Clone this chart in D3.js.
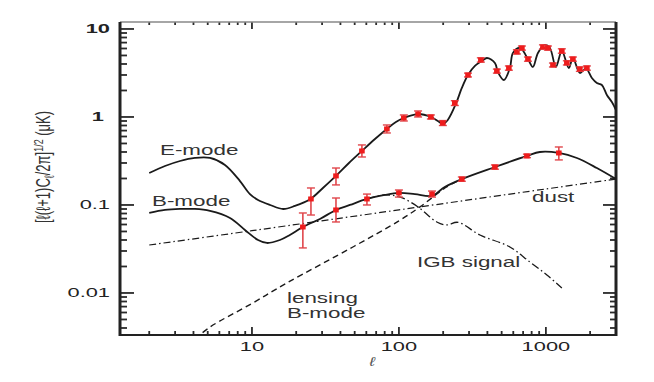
<!DOCTYPE html>
<html>
<head>
<meta charset="utf-8">
<script src="https://cdn.jsdelivr.net/npm/d3@7"></script>
<style>
  body { margin: 0; background: #fff; }
  svg text { font-family: "Liberation Sans", Arial, sans-serif; fill: #222; }
</style>
</head>
<body>
<div id="chart"></div>
<script>
////////////////////////////////////////////////////////////////////////
// Data (multipole l, amplitude in uK)

let eModeEll = [2, 2.56, 3.24, 4.09, 5.18, 6.55, 8.29, 9.69, 11, 13.3,
  16.3, 19.6, 25, 30.4, 37.3, 45.7, 56, 68.7, 82.8, 95.4,
  108, 135, 165, 184, 199, 215, 244, 268, 295, 329,
  367, 397, 450, 471, 518, 569, 597, 666, 755, 816,
  883, 985, 1065, 1170, 1284, 1433, 1527, 1703, 1871, 2056,
  2223, 2404, 2600, 2812, 3000];
let eModeAmp = [0.231, 0.277, 0.316, 0.342, 0.342, 0.285, 0.187, 0.133, 0.114, 0.100,
  0.090, 0.0975, 0.117, 0.156, 0.214, 0.300, 0.411, 0.562, 0.731, 0.877,
  0.974, 1.08, 1.0, 0.90, 0.833, 0.925, 1.41, 2.14, 3.0, 3.80,
  4.33, 4.68, 4.11, 3.25, 2.63, 3.60, 5.34, 6.08, 4.56, 3.70,
  5.34, 6.58, 6.08, 3.70, 5.62, 3.60, 4.68, 3.16, 3.56, 2.77,
  2.43, 2.31, 1.78, 1.48, 1.20];

let bModeEll = [2, 2.56, 3.24, 4.09, 5.18, 7.09, 8.96, 11, 12.65, 15.5,
  18.1, 22.2, 29, 37.3, 46.4, 60.6, 80.3, 100, 128.5, 168,
  205, 268, 450, 743, 910, 1225, 1626, 2223, 3000];
let bModeAmp = [0.0811, 0.0878, 0.0901, 0.0901, 0.0855, 0.0711, 0.052, 0.040, 0.037, 0.040,
  0.0456, 0.0562, 0.0693, 0.0878, 0.100, 0.117, 0.130, 0.137, 0.133, 0.127,
  0.160, 0.197, 0.270, 0.361, 0.40, 0.39, 0.342, 0.263, 0.197];

let dustEll = [2, 10, 100, 1000, 3000];
let dustAmp = [0.0351, 0.051, 0.088, 0.152, 0.197];

let lensEll = [4.1, 5.18, 10, 17.3, 48.6, 100, 139, 211, 268];
let lensAmp = [0.0030, 0.0041, 0.0076, 0.013, 0.0333, 0.066, 0.095, 0.160, 0.197];

let igbEll = [60.6, 80.3, 102, 135, 181, 212, 252, 356, 569, 778, 1016, 1284];
let igbAmp = [0.117, 0.130, 0.123, 0.0949, 0.0641, 0.0593, 0.0635, 0.0456, 0.0333, 0.0225, 0.016, 0.0114];

// measured band powers with error bars
let eDataEll = [25.2, 37.3, 56, 82.8, 108, 135, 165, 199, 240, 295, 361, 464,
  560, 635, 687, 755, 955, 1032, 1117, 1284, 1389, 1527, 1703, 1901];
let eDataAmp = [0.117, 0.214, 0.411, 0.731, 0.974, 1.08, 1.0, 0.855, 1.44, 3.0, 4.44, 3.33,
  3.60, 5.48, 6.08, 4.56, 6.24, 6.08, 3.90, 5.62, 4.11, 4.56, 3.51, 3.60];
let eDataLo = [0.0769, 0.169, 0.351, 0.658, 0.90, 1.0, 0.949, 0.80, 1.35, 2.85, 4.2, 3.15,
  3.40, 5.2, 5.75, 4.3, 5.9, 5.75, 3.7, 5.3, 3.9, 4.3, 3.3, 3.4];
let eDataHi = [0.156, 0.263, 0.481, 0.811, 1.054, 1.17, 1.054, 0.91, 1.53, 3.15, 4.7, 3.5,
  3.8, 5.8, 6.4, 4.8, 6.6, 6.4, 4.1, 5.95, 4.35, 4.8, 3.7, 3.8];

let bDataEll = [22.2, 37.3, 60.6, 100, 168, 268, 450, 743, 1225];
let bDataAmp = [0.0562, 0.0878, 0.117, 0.137, 0.133, 0.197, 0.270, 0.361, 0.39];
let bDataLo = [0.0325, 0.0641, 0.100, 0.123, 0.123, 0.186, 0.255, 0.345, 0.325];
let bDataHi = [0.0811, 0.120, 0.133, 0.148, 0.144, 0.208, 0.285, 0.378, 0.456];

let xTicks = [10, 100, 1000];
let xTickLabels = ["10", "100", "1000"];
let yTicks = [0.01, 0.1, 1, 10];
let yTickLabels = ["0.01", "0.1", "1", "10"];

////////////////////////////////////////////////////////////////////////
// Layout

let width = 654, height = 382;
let pLeft = 120, pRight = 616, pTop = 22, pBottom = 335;

let x = d3.scaleLog().domain([1.265, 3000]).range([pLeft, pRight]);
let y = d3.scaleLog().domain([0.00333, 12]).range([pBottom, pTop]);

let svg = d3.select("#chart").append("svg")
  .attr("width", width)
  .attr("height", height);

svg.append("clipPath").attr("id", "plotclip")
  .append("rect")
  .attr("x", pLeft).attr("y", pTop)
  .attr("width", pRight - pLeft).attr("height", pBottom - pTop);

function zip(ell, amp) {
  return ell.map(function(d, i) { return { ell: d, amp: amp[i] }; });
}

// the original picture is squashed wide, so text gets a horizontal stretch
function wideText(sel, px, py, sx) {
  return sel.attr("transform", "translate(" + px + "," + py + ") scale(" + sx + ",1)");
}

////////////////////////////////////////////////////////////////////////
// Ticks point inward on all four sides

function isMajor(d) {
  return yTicks.concat(xTicks).some(function(t) { return Math.abs(d / t - 1) < 1e-6; });
}
let xAll = x.ticks().map(function(d) { return { v: d, major: isMajor(d) }; });
let yAll = y.ticks().map(function(d) { return { v: d, major: isMajor(d) }; });

let tickLayer = svg.append("g")
  .attr("stroke", "#2a2a2a")
  .attr("stroke-width", 1.8);

// bottom and top: [edge, direction, major length, minor length]
[[pBottom, -1, 8, 4], [pTop, 1, 7, 3]].forEach(function(s) {
  tickLayer.append("g").selectAll("line").data(xAll).enter().append("line")
    .attr("x1", function(d) { return x(d.v); })
    .attr("x2", function(d) { return x(d.v); })
    .attr("y1", s[0])
    .attr("y2", function(d) { return s[0] + s[1] * (d.major ? s[2] : s[3]); });
});

// left and right
[[pLeft, 1, 14, 7], [pRight, -1, 13, 6]].forEach(function(s) {
  tickLayer.append("g").selectAll("line").data(yAll).enter().append("line")
    .attr("y1", function(d) { return y(d.v); })
    .attr("y2", function(d) { return y(d.v); })
    .attr("x1", s[0])
    .attr("x2", function(d) { return s[0] + s[1] * (d.major ? s[2] : s[3]); });
});

// frame
svg.append("line").attr("x1", pLeft).attr("x2", pRight).attr("y1", pTop).attr("y2", pTop)
  .attr("stroke", "#888").attr("stroke-width", 1.5);
svg.append("line").attr("x1", pLeft).attr("x2", pRight).attr("y1", pBottom).attr("y2", pBottom)
  .attr("stroke", "#222").attr("stroke-width", 2);
svg.append("line").attr("x1", pLeft).attr("x2", pLeft).attr("y1", pTop).attr("y2", pBottom + 1)
  .attr("stroke", "#222").attr("stroke-width", 3);
svg.append("line").attr("x1", pRight).attr("x2", pRight).attr("y1", pTop).attr("y2", pBottom + 1)
  .attr("stroke", "#222").attr("stroke-width", 3);

// tick labels
svg.selectAll(".xlab").data(xTicks).enter().append("text")
  .attr("class", "xlab")
  .attr("text-anchor", "middle")
  .style("font-size", "13px")
  .text(function(d, i) { return xTickLabels[i]; })
  .each(function(d) { wideText(d3.select(this), x(d), 351, 1.68); });

svg.selectAll(".ylab").data(yTicks).enter().append("text")
  .attr("class", "ylab")
  .attr("text-anchor", "end")
  .style("font-size", "13px")
  .style("font-weight", function(d) { return d >= 1 ? "bold" : "normal"; })
  .text(function(d, i) { return yTickLabels[i]; })
  .each(function(d) { wideText(d3.select(this), d === 1 ? 104 : 110, y(d) + 4.5, 1.68); });

// axis titles
wideText(svg.append("text"), 372, 366, 1.3)
  .attr("text-anchor", "middle")
  .style("font-size", "13px")
  .style("font-style", "italic")
  .style("fill", "#555")
  .text("\u2113");

let ytitle = svg.append("text")
  .attr("transform", "translate(50,167) scale(1.5,1) rotate(-90)")
  .attr("text-anchor", "middle")
  .style("font-size", "13px")
  .style("fill", "#333");
ytitle.append("tspan").text("[\u2113(\u2113+1)C");
ytitle.append("tspan").attr("baseline-shift", "-25%").style("font-size", "9px").text("\u2113");
ytitle.append("tspan").text("/2\u03c0]");
ytitle.append("tspan").attr("baseline-shift", "55%").style("font-size", "9px").text("1/2");
ytitle.append("tspan").text(" (\u03bcK)");

////////////////////////////////////////////////////////////////////////
// Curves

let plot = svg.append("g").attr("clip-path", "url(#plotclip)");

let line = d3.line()
  .x(function(d) { return x(d.ell); })
  .y(function(d) { return y(d.amp); })
  .curve(d3.curveCatmullRom.alpha(0.5));

let curves = [
  { ell: dustEll, amp: dustAmp, dash: "7,3,1.5,3", w: 1.2 },
  { ell: lensEll, amp: lensAmp, dash: "6,4", w: 1.4 },
  { ell: igbEll, amp: igbAmp, dash: "8,3,1.5,3", w: 1.3 },
  { ell: bModeEll, amp: bModeAmp, dash: null, w: 1.8 },
  { ell: eModeEll, amp: eModeAmp, dash: null, w: 1.8 }
];

plot.selectAll(".curve").data(curves).enter().append("path")
  .attr("class", "curve")
  .attr("d", function(d) { return line(zip(d.ell, d.amp)); })
  .attr("fill", "none")
  .attr("stroke", "#1a1a1a")
  .attr("stroke-width", function(d) { return d.w; })
  .attr("stroke-dasharray", function(d) { return d.dash; });

////////////////////////////////////////////////////////////////////////
// Data points with error bars

function drawPoints(ell, amp, lo, hi) {
  let pts = ell.map(function(d, i) { return { ell: d, amp: amp[i], lo: lo[i], hi: hi[i] }; });
  let g = plot.append("g").selectAll("g").data(pts).enter().append("g")
    .attr("transform", function(d) { return "translate(" + x(d.ell) + ",0)"; });
  g.append("line")
    .attr("y1", function(d) { return y(d.lo); })
    .attr("y2", function(d) { return y(d.hi); })
    .attr("stroke", "#e0474c").attr("stroke-width", 1.6);
  ["lo", "hi"].forEach(function(k) {
    g.append("line")
      .attr("x1", -4).attr("x2", 4)
      .attr("y1", function(d) { return y(d[k]); })
      .attr("y2", function(d) { return y(d[k]); })
      .attr("stroke", "#e0474c").attr("stroke-width", 1.4);
  });
  g.append("rect")
    .attr("x", -2.8).attr("width", 5.6)
    .attr("y", function(d) { return y(d.amp) - 2.5; })
    .attr("height", 5)
    .attr("fill", "#ee1c1c");
}

drawPoints(eDataEll, eDataAmp, eDataLo, eDataHi);
drawPoints(bDataEll, bDataAmp, bDataLo, bDataHi);

////////////////////////////////////////////////////////////////////////
// Labels

let labels = [
  { text: "E-mode", px: 160, py: 155 },
  { text: "B-mode", px: 152, py: 206 },
  { text: "dust", px: 532, py: 202 },
  { text: "IGB signal", px: 417, py: 267 },
  { text: "lensing", px: 287, py: 303 },
  { text: "B-mode", px: 287, py: 318 }
];

svg.selectAll(".lab").data(labels).enter().append("text")
  .attr("class", "lab")
  .style("font-size", "14px")
  .style("fill", "#333")
  .text(function(d) { return d.text; })
  .each(function(d) { wideText(d3.select(this), d.px, d.py, 1.6); });
</script>
</body>
</html>
